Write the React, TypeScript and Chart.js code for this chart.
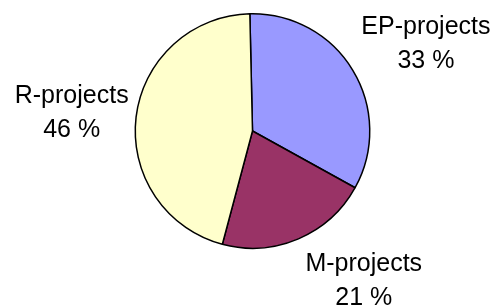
import React, { useEffect, useRef } from "react";
import { Chart, registerables } from "chart.js";

Chart.register(...registerables);

const categories = ["EP-projects", "M-projects", "R-projects"];
const values = [33.4, 21.1, 45.5];
const percentLabels = ["33 %", "21 %", "46 %"];
const colors = ["#9999FF", "#993366", "#FFFFCC"];

// label anchor offsets relative to pie centre, in units of radius
const labelOffsets = [
  [1.479, -0.682],
  [0.949, 1.335],
  [-1.542, -0.093],
];

const labelPlugin = {
  id: "pieLabels",
  afterDraw(chart: any) {
    const ctx = chart.ctx;
    const meta = chart.getDatasetMeta(0);
    ctx.save();
    ctx.fillStyle = "#000";
    ctx.font = '25px "Liberation Sans", Arial, sans-serif';
    ctx.textAlign = "center";
    ctx.textBaseline = "alphabetic";
    meta.data.forEach((arc: any, i: number) => {
      const r = arc.outerRadius;
      const x = arc.x + labelOffsets[i][0] * r;
      const y = arc.y + labelOffsets[i][1] * r;
      ctx.fillText(categories[i], x, y - 17);
      ctx.fillText(percentLabels[i], x, y + 17);
    });
    ctx.restore();
  },
};

export default function App() {
  const ref = useRef<HTMLCanvasElement | null>(null);
  useEffect(() => {
    document.body.style.margin = "0";
    const chart = new Chart(ref.current as HTMLCanvasElement, {
      type: "pie",
      data: {
        labels: categories,
        datasets: [
          {
            data: values,
            backgroundColor: colors,
            borderColor: "#000",
            borderWidth: 1.5,
          },
        ],
      },
      options: {
        animation: false,
        responsive: false,
        rotation: -1.3,
        layout: { padding: { left: 134, right: 126, top: 13, bottom: 59 } },
        plugins: {
          legend: { display: false },
          tooltip: { enabled: false },
        },
      },
      plugins: [labelPlugin],
    });
    return () => chart.destroy();
  }, []);
  return (
    <div style={{ position: "absolute", left: 0, top: 0, width: 497, height: 308, background: "#fff" }}>
      <canvas ref={ref} width={497} height={308} />
    </div>
  );
}
